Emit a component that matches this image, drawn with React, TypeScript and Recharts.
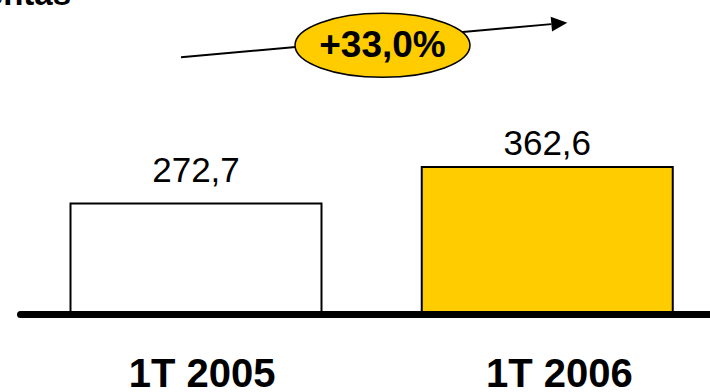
import React from 'react';
import { BarChart, Bar, XAxis, YAxis, Cell, LabelList, Customized } from 'recharts';

const periods = ['1T 2005', '1T 2006'];
const sales = [272.7, 362.6];
const barColors = ['#FFFFFF', '#FFCC00'];
const title = 'Ventas';

const data = periods.map((p, i) => ({ name: p, value: sales[i] }));

const FONT = "Arial, 'Liberation Sans', sans-serif";
const fmt = (v: number, d = 1) => v.toFixed(d).replace('.', ',');

const growth = (sales[1] / sales[0] - 1) * 100;

const labelGap = [22, 12];
const tickShift = [6, 12];

const ValueLabel = (props: any) => {
  const { x, y, width, value, index } = props;
  return (
    <text
      x={x + width / 2}
      y={y - labelGap[index]}
      textAnchor="middle"
      fontFamily={FONT}
      fontSize={35}
      fill="#000"
    >
      {fmt(value)}
    </text>
  );
};

const PeriodTick = (props: any) => {
  const { x, y, payload, index } = props;
  return (
    <text
      x={x + tickShift[index]}
      y={y + 72}
      textAnchor="middle"
      fontFamily={FONT}
      fontSize={40}
      fontWeight="bold"
      fill="#000"
    >
      {payload.value}
    </text>
  );
};

// growth arrow with the yellow bubble, plus the cut-off title
const Overlay = () => {
  const x1 = 181, y1 = 57.3, x2 = 567.3, y2 = 22.7;
  const dx = x2 - x1, dy = y2 - y1;
  const len = Math.hypot(dx, dy);
  const ux = dx / len, uy = dy / len;
  const headLen = 16, headW = 7.5;
  const bx = x2 - ux * headLen, by = y2 - uy * headLen;
  const head = `${x2},${y2} ${bx - uy * headW},${by + ux * headW} ${bx + uy * headW},${by - ux * headW}`;
  return (
    <g>
      <text x={71} y={5} textAnchor="end" fontFamily={FONT} fontSize={33} fontWeight="bold" fill="#000">
        {title}
      </text>
      <line x1={x1} y1={y1} x2={bx} y2={by} stroke="#000" strokeWidth={2} />
      <polygon points={head} fill="#000" />
      <ellipse cx={382.5} cy={45.3} rx={87.5} ry={32} fill="#FFCC00" stroke="#000" strokeWidth={1.5} />
      <text x={382.5} y={57} textAnchor="middle" fontFamily={FONT} fontSize={37} fontWeight="bold" fill="#000">
        {'+' + fmt(growth) + '%'}
      </text>
    </g>
  );
};

export default function App() {
  return (
    <div style={{ width: 710, height: 392, overflow: 'hidden', background: '#fff' }}>
      <style>{'body{margin:0}'}</style>
      <BarChart
        width={723}
        height={392}
        data={data}
        margin={{ top: 111, right: 0, bottom: 17.5, left: 20.5 }}
        barCategoryGap={0}
      >
        <YAxis hide domain={[0, 500]} />
        <XAxis
          dataKey="name"
          height={60}
          tickLine={false}
          tickSize={0}
          tickMargin={0}
          interval={0}
          axisLine={{ stroke: '#000', strokeWidth: 7, strokeLinecap: 'round' }}
          tick={<PeriodTick />}
        />
        <Bar dataKey="value" barSize={251} stroke="#000" strokeWidth={2} isAnimationActive={false}>
          {data.map((d, i) => (
            <Cell key={d.name} fill={barColors[i]} />
          ))}
          <LabelList dataKey="value" content={<ValueLabel />} />
        </Bar>
        <Customized component={<Overlay />} />
      </BarChart>
    </div>
  );
}
